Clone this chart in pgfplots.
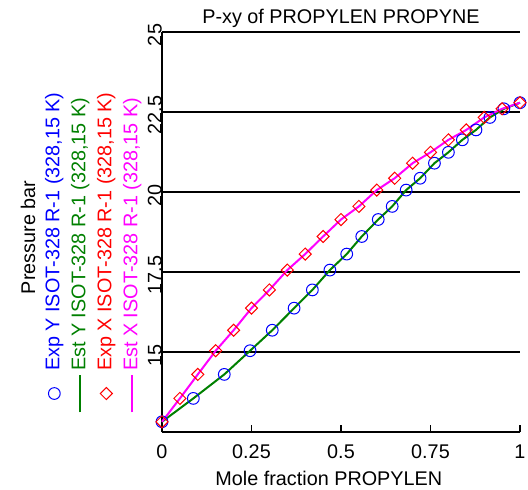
\documentclass[border=0pt]{standalone}
\usepackage{fontspec}
\setmainfont{Liberation Sans}
\usepackage{pgfplots}
\pgfplotsset{compat=1.18}
\definecolor{expy}{RGB}{0,0,255}
\definecolor{esty}{RGB}{0,128,0}
\definecolor{expx}{RGB}{255,0,0}
\definecolor{estx}{RGB}{255,0,255}
\newcommand{\pfont}{\fontsize{14.85}{17}\selectfont}

% experimental P-xy points, P in bar
\pgfplotstableread{
x     y      P
0.00  0.000  12.82
0.05  0.0875 13.55
0.10  0.174  14.30
0.15  0.246  15.04
0.20  0.308  15.68
0.25  0.369  16.37
0.30  0.420  16.94
0.35  0.469  17.56
0.40  0.516  18.06
0.45  0.558  18.61
0.50  0.604  19.14
0.55  0.643  19.55
0.60  0.682  20.06
0.65  0.721  20.43
0.70  0.761  20.90
0.75  0.800  21.24
0.80  0.839  21.63
0.85  0.877  21.94
0.90  0.916  22.33
0.95  0.955  22.60
1.00  1.000  22.79
}\pxy

\begin{document}
\pfont
\begin{tikzpicture}
\useasboundingbox (-121.5pt,-42.75pt) rectangle (274.5pt,324pt);
\begin{axis}[
  at={(0,0)}, anchor=south west,
  scale only axis, width=268.5pt, height=300pt,
  xmin=0, xmax=1, ymin=12.5, ymax=25,
  xtick={0,0.25,0.5,0.75,1},
  ytick={15,17.5,20,22.5,25},
  axis x line*=bottom, axis y line*=left,
  axis line style={-, line width=1pt, black},
  ymajorgrids, grid style={black, line width=0.8pt},
  tick align=inside, major tick length=5.25pt,
  xtick style={black, line width=0.8pt},
  ytick style={draw=none},
  /pgf/number format/assume math mode=true,
  xticklabel style={font=\pfont, anchor=north, inner sep=0pt, yshift=-9.5pt},
  yticklabel style={font=\pfont, rotate=90, anchor=south, inner sep=0pt, xshift=-2.25pt},
  title={P-xy of PROPYLEN PROPYNE},
  title style={font=\pfont, at={(0.5,1)}, anchor=base},
  xlabel={Mole fraction PROPYLEN},
  xlabel style={font=\pfont, at={(0.466,0)}, anchor=base, yshift=-39.75pt},
  clip=false,
  legend image code/.code={\draw[mark repeat=2,mark phase=2,#1] plot coordinates {(0cm,0cm)(0.5cm,0cm)(1cm,0cm)};},
  legend cell align=left,
  legend style={transform canvas={rotate=90}, at={(axis description cs:0.051,0.046)}, anchor=south west,
    draw=none, fill=none, inner sep=0pt, row sep=3pt, column sep=1pt,
    nodes={inner sep=1pt, text height=11pt, text depth=3.5pt}, font=\pfont},
]
\addplot[only marks, mark=o, mark size=4.4pt, draw=expy, mark options={line width=0.75pt}] table[x=y, y=P] {\pxy};
\addlegendentry{\textcolor{expy}{Exp Y ISOT-328 R-1 (328,15 K)}}
\addplot[no marks, esty, line width=1.5pt] table[x=y, y=P] {\pxy};
\addlegendentry{\textcolor{esty}{Est Y ISOT-328 R-1 (328,15 K)}}
\addplot[only marks, mark=square, mark size=3.2pt, draw=expx, mark options={rotate=45, line width=0.75pt}] table[x=x, y=P] {\pxy};
\addlegendentry{\textcolor{expx}{Exp X ISOT-328 R-1 (328,15 K)}}
\addplot[no marks, estx, line width=1.5pt] table[x=x, y=P] {\pxy};
\addlegendentry{\textcolor{estx}{Est X ISOT-328 R-1 (328,15 K)}}
\end{axis}
\node[rotate=90, font=\pfont, inner sep=0pt] at (-100.5pt,145.9pt) {Pressure bar};
\end{tikzpicture}
\end{document}
